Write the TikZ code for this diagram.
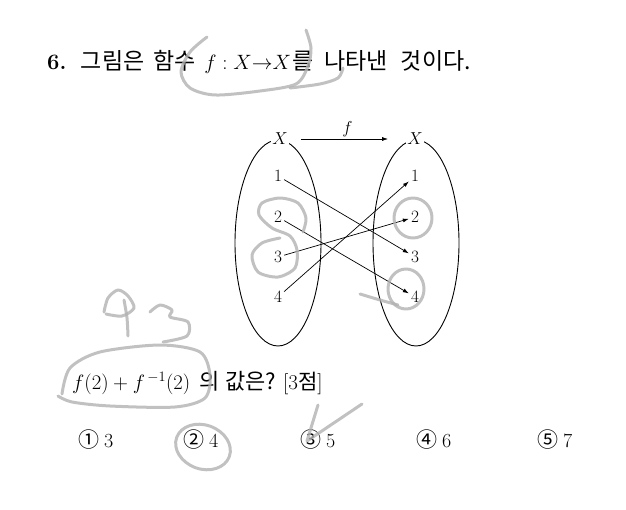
\documentclass[tikz,border=0pt]{standalone}
\usepackage{fontspec}
\newfontfamily\kr{Noto Sans CJK KR}
\usetikzlibrary{shapes, arrows.meta, positioning}

\tikzset{
  txt/.style={anchor=base west, inner sep=0pt, font=\fontsize{21}{23}\selectfont},
  krtxt/.style={txt, font=\kr\fontsize{23}{25}\selectfont},
  setbox/.style={draw, ellipse, line width=0.9pt, minimum width=86, minimum height=206},
  elem/.style={inner sep=2pt, font=\fontsize{19}{19}\selectfont},
  map/.style={-{Latex[length=6pt,width=4pt]}, line width=0.7pt},
  pencil/.style={draw=gray!60, line width=3pt, line cap=round, line join=round, opacity=0.8},
}

\begin{document}
\begin{tikzpicture}[x=1pt, y=-1pt]
\useasboundingbox (0,0) rectangle (626,510);
% question text
\node[txt, font=\fontsize{22}{24}\selectfont\bfseries] (num) at (47,70) {6.};
\node[krtxt, right=14pt of num.base east, anchor=base west] (w1) {그림은};
\node[krtxt, right=9pt of w1.base east, anchor=base west] (w2) {함수};
\node[txt, right=8pt of w2.base east, anchor=base west] (w3) {$f\;{:}\;X{\to}X$};
\node[krtxt, right=1pt of w3.base east, anchor=base west] (w4) {를};
\node[krtxt, right=10pt of w4.base east, anchor=base west] (w5) {나타낸};
\node[krtxt, right=13pt of w5.base east, anchor=base west] (w6) {것이다.};
% the two sets
\node[setbox] (setL) at (278,243) {};
\node[setbox] (setR) at (416,243) {};
\node[elem, fill=white, inner sep=1pt] (XL) at (280,139) {$X$};
\node[elem, fill=white, inner sep=1pt] (XR) at (415,139) {$X$};
\draw[map, shorten <=12pt, shorten >=18pt] (XL) -- node[above, elem]{$f$} (XR);
\foreach \i/\y in {1/176,2/217,3/257,4/297} {
  \node[elem] (L\i) at (278,\y) {$\i$};
  \node[elem] (R\i) at (415,\y) {$\i$};
}
\draw[map] (L1) -- (R3);
\draw[map] (L2) -- (R4);
\draw[map] (L3) -- (R2);
\draw[map] (L4) -- (R1);
% what is asked
\node[txt, font=\fontsize{22}{24}\selectfont] (q1) at (72,389) {$f(2)+f^{\,-1}(2)$};
\node[krtxt, font=\kr\fontsize{22}{24}\selectfont] (q2) at (199,389) {의};
\node[krtxt, font=\kr\fontsize{22}{24}\selectfont] (q3) at (225,389) {값은?};
\node[txt] (q4) at (283,389) {[3{\kr 점}]};
% choices
\foreach \m/\c/\x [count=\n] in {①/3/78, ②/4/183, ③/5/300, ④/6/416, ⑤/7/537}
  \node[txt, font=\fontsize{20}{22}\selectfont] (opt\n) at (\x,447) {{\kr\fontsize{21}{22}\selectfont \m}\hspace{5pt}\c};
% pencil marks
\draw[pencil] plot[smooth] coordinates {(207,37) (190,52) (181,72) (190,88) (215,95) (260,91) (296,84) (308,66) (311,48) (306,30)};
\draw[pencil] plot[smooth] coordinates {(290,88) (320,84) (338,78) (343,68)};
\draw[pencil] plot[smooth] coordinates {(104,312) (108,298) (118,290) (128,296) (134,308) (122,316) (106,314)};
\draw[pencil] plot[smooth] coordinates {(124,300) (127,318) (128,336)};
\draw[pencil] plot[smooth] coordinates {(150,312) (160,305) (172,310) (170,317) (188,322) (187,336) (163,342)};
\draw[pencil] plot[smooth] coordinates {(62,394) (70,368) (100,352) (160,345) (200,352) (210,375) (205,398) (175,407) (110,406) (72,402) (58,396)};
\draw[pencil] plot[smooth] coordinates {(303,232) (306,218) (298,203) (280,198) (262,203) (259,215) (272,228) (290,236) (297,250) (295,268) (278,277) (258,272) (252,255) (262,243) (280,238)};
\draw[pencil] (413,218) ellipse [x radius=19, y radius=20];
\draw[pencil] (406,289) ellipse [x radius=18, y radius=20];
\draw[pencil] plot[smooth] coordinates {(360,294) (380,300) (398,305)};
\draw[pencil, rotate around={-20:(203,447)}] (203,447) ellipse [x radius=28, y radius=22];
\draw[pencil] (318,405) -- (307,441) -- (362,404);
\end{tikzpicture}
\end{document}
